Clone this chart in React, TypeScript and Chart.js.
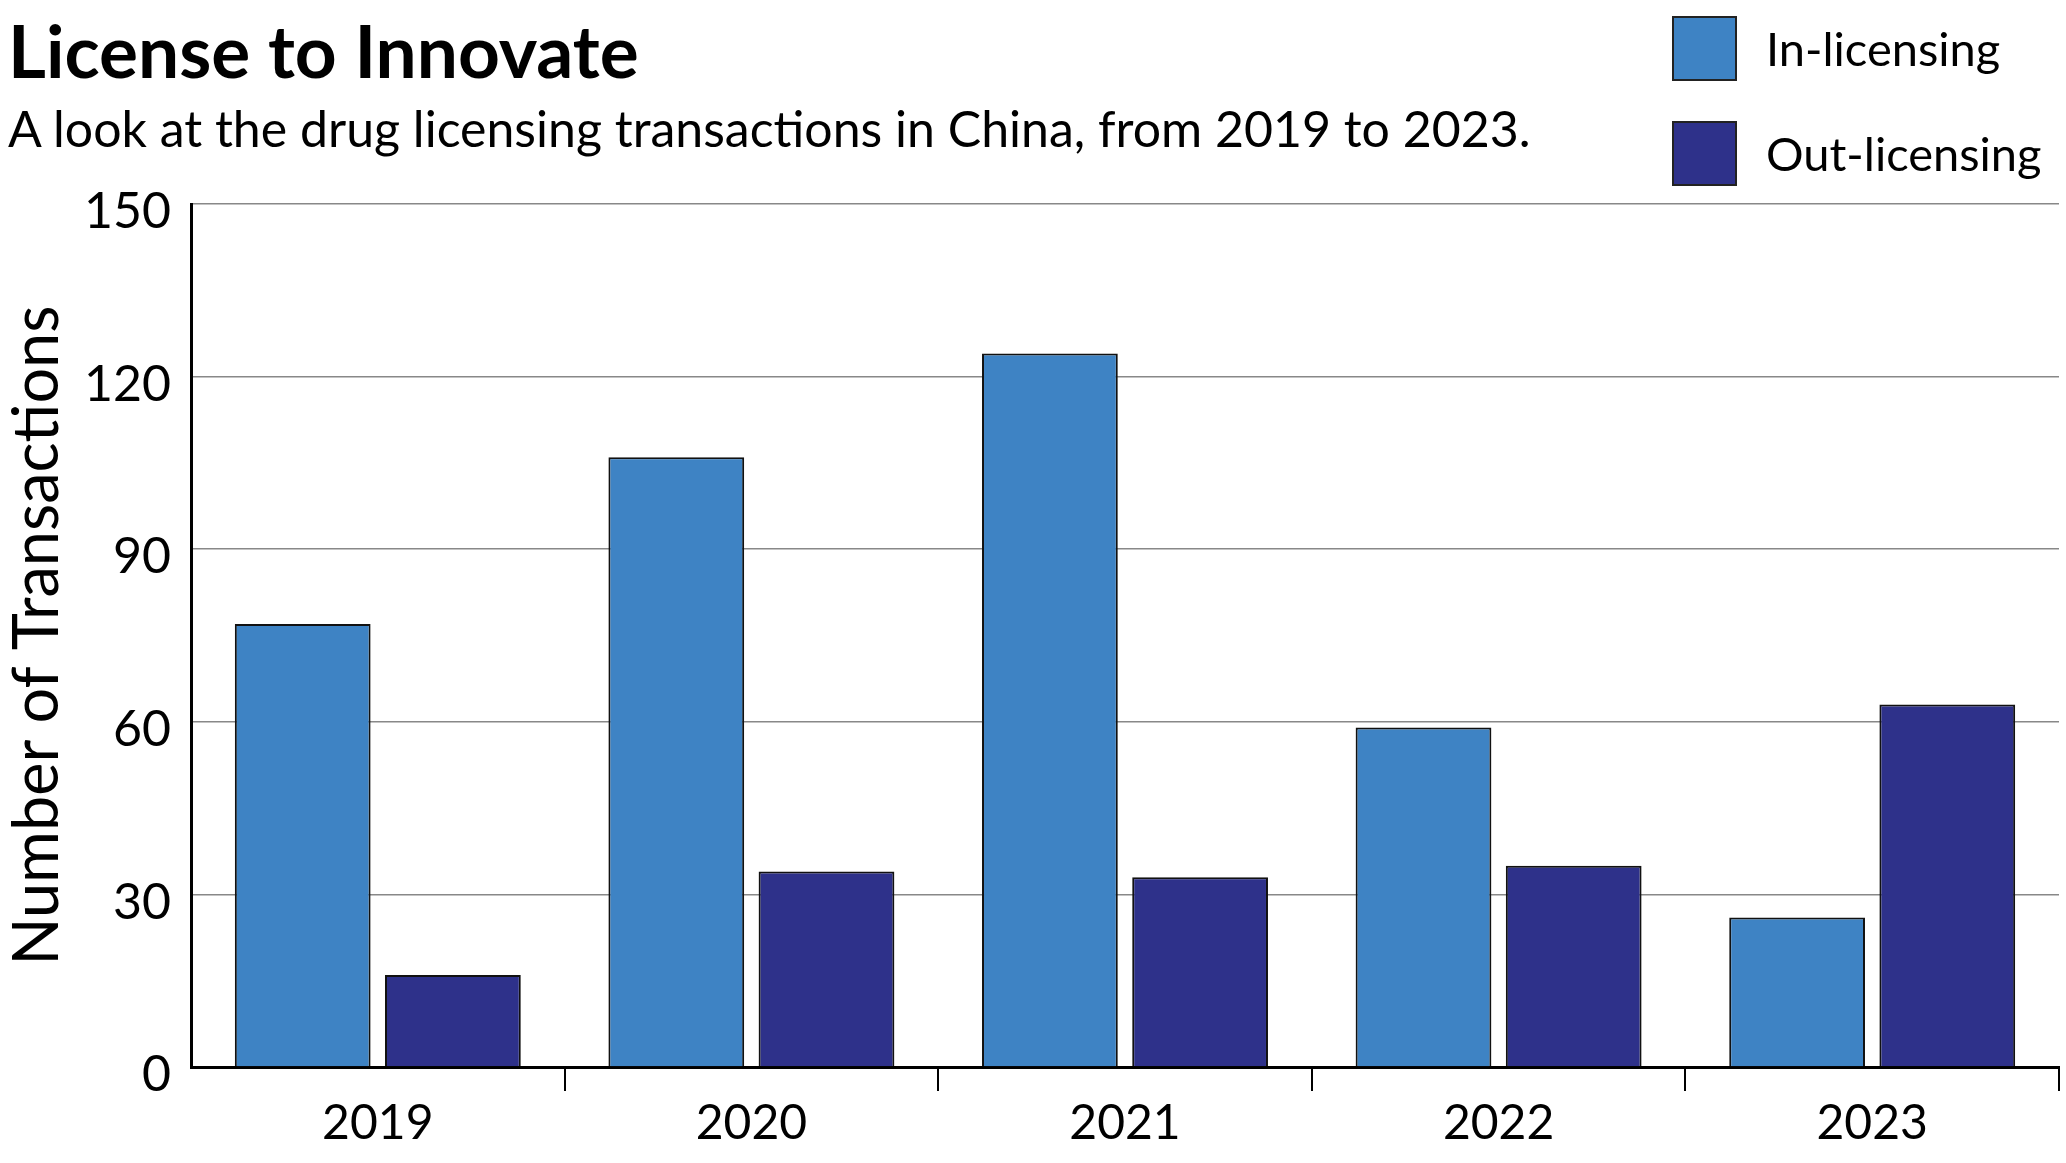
import React, { useEffect, useRef } from 'react';
import { Chart, registerables } from 'chart.js';

Chart.register(...registerables);

const categories = ['2019', '2020', '2021', '2022', '2023'];
const inLicensing = [77, 106, 124, 59, 26];
const outLicensing = [16, 34, 33, 35, 63];
const seriesNames = ['In-licensing', 'Out-licensing'];
const seriesColors = ['#3E83C4', '#2E318A'];
const yMin = 0;
const yMax = 150;
const yStep = 30;

const FONT = 'Lato, "Noto Sans", "DejaVu Sans", sans-serif';

export default function App() {
  const ref = useRef<HTMLCanvasElement>(null);

  useEffect(() => {
    document.body.style.margin = '0';
    const canvas = ref.current!;
    const chart = new Chart(canvas, {
      type: 'bar',
      data: {
        labels: categories,
        datasets: [
          {
            label: seriesNames[0],
            data: inLicensing,
            backgroundColor: seriesColors[0],
            borderColor: '#111',
            borderWidth: 2,
            categoryPercentage: 0.804,
            barPercentage: 0.904,
          },
          {
            label: seriesNames[1],
            data: outLicensing,
            backgroundColor: seriesColors[1],
            borderColor: '#111',
            borderWidth: 2,
            categoryPercentage: 0.804,
            barPercentage: 0.904,
          },
        ],
      },
      options: {
        animation: false,
        responsive: false,
        devicePixelRatio: 1,
        layout: { padding: { top: 204, right: 7, left: 0, bottom: 0 } },
        plugins: {
          legend: { display: false },
          title: { display: false },
          tooltip: { enabled: false },
        },
        scales: {
          x: {
            grid: {
              offset: true,
              drawOnChartArea: false,
              drawTicks: true,
              tickLength: 24,
              color: (ctx: any) => (ctx.index === 0 ? 'rgba(0,0,0,0)' : '#000'),
              lineWidth: 2,
            },
            border: { color: '#000', width: 3 },
            ticks: {
              color: '#000',
              padding: 4,
              font: { family: FONT, size: 48 },
            },
            afterFit: (s: any) => {
              s.height = 96;
            },
          },
          y: {
            min: yMin,
            max: yMax,
            ticks: {
              stepSize: yStep,
              color: '#000',
              padding: 20,
              labelOffset: 8,
              font: { family: FONT, size: 50 },
            },
            grid: { color: '#888', lineWidth: 1.5, drawTicks: false },
            border: { color: '#000', width: 3 },
            title: {
              display: true,
              text: 'Number of Transactions',
              color: '#000',
              padding: 0,
              font: { family: FONT, size: 63 },
            },
            afterFit: (s: any) => {
              s.width = 191;
            },
          },
        },
      },
    });
    return () => chart.destroy();
  }, []);

  const legendItem = (i: number, top: number) => (
    <div
      key={i}
      style={{
        position: 'absolute',
        left: 1672,
        top,
        height: 65,
        display: 'flex',
        alignItems: 'center',
      }}
    >
      <div
        style={{
          width: 61,
          height: 61,
          background: seriesColors[i],
          border: '2px solid #222',
        }}
      />
      <div style={{ marginLeft: 29, fontSize: 47, fontFamily: FONT, color: '#000', lineHeight: 1 }}>
        {seriesNames[i]}
      </div>
    </div>
  );

  return (
    <div style={{ position: 'relative', width: 2066, height: 1163, background: '#fff', overflow: 'hidden' }}>
      <canvas ref={ref} width={2066} height={1163} style={{ display: 'block', position: 'absolute', left: 0, top: 0 }} />
      <div
        style={{
          position: 'absolute',
          left: 8,
          top: 14,
          fontFamily: FONT,
          fontWeight: 700,
          fontSize: 73,
          lineHeight: 1,
          color: '#000',
          whiteSpace: 'nowrap',
        }}
      >
        License to Innovate
      </div>
      <div
        style={{
          position: 'absolute',
          left: 8,
          top: 103,
          fontFamily: FONT,
          fontSize: 50,
          lineHeight: 1,
          color: '#000',
          whiteSpace: 'nowrap',
        }}
      >
        A look at the drug licensing transactions in China, from 2019 to 2023.
      </div>
      {legendItem(0, 16)}
      {legendItem(1, 121)}
    </div>
  );
}
